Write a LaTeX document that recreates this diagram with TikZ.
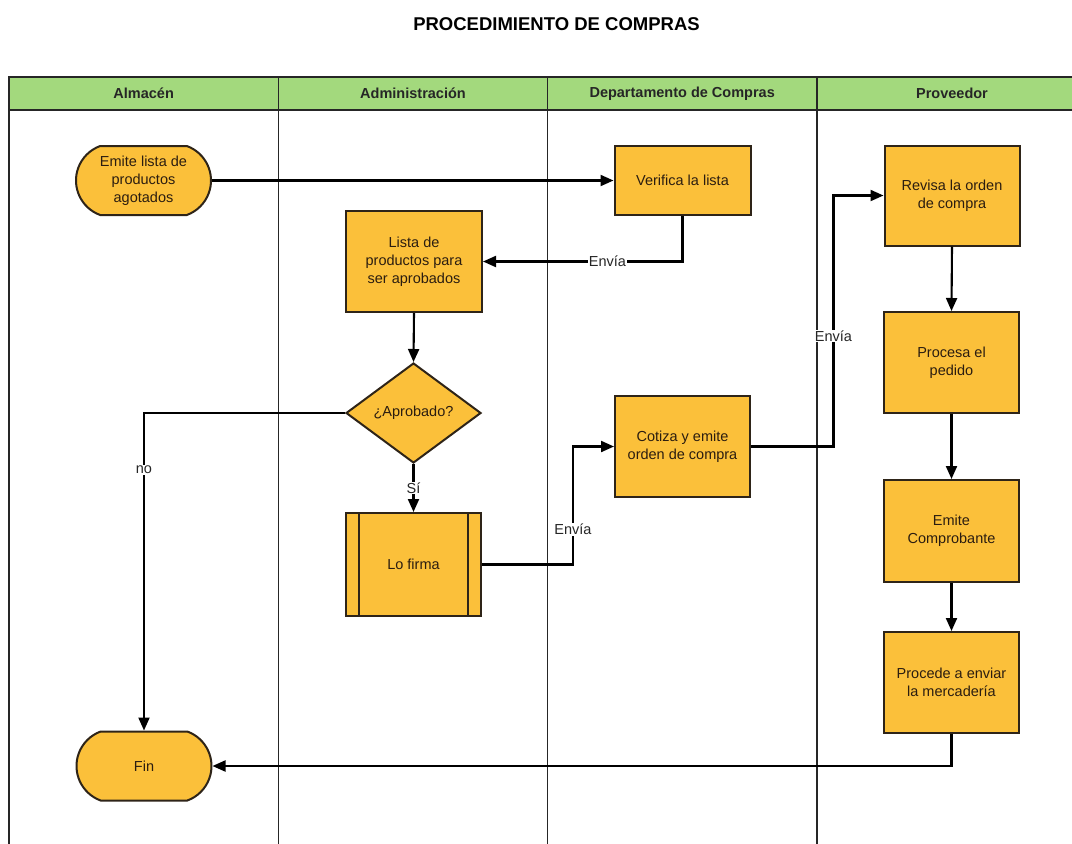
\documentclass[tikz,border=0pt]{standalone}
\usepackage{fontspec}
\setmainfont{Liberation Sans}
\usetikzlibrary{shapes.geometric,shapes.misc,arrows.meta,calc}
\definecolor{hdr}{HTML}{A3D97D}
\definecolor{boxc}{HTML}{FBC03A}
\definecolor{edgec}{HTML}{2E2418}
\definecolor{txtc}{HTML}{2B1D10}
\begin{document}
\begin{tikzpicture}[x=1pt,y=-1pt,
  every node/.style={font=\fontsize{14.5}{18}\selectfont, text=txtc, align=center},
  proc/.style={draw=edgec, line width=2pt, fill=boxc, minimum width=135pt, minimum height=101pt, inner sep=0pt},
  term/.style={rounded rectangle, rounded rectangle arc length=140, draw=edgec, line width=2pt, fill=boxc, minimum width=135pt, minimum height=69pt, inner sep=0pt},
  dec/.style={diamond, draw=edgec, line width=2pt, fill=boxc, minimum width=135pt, minimum height=100pt, inner sep=0pt, aspect=1.35},
  conn/.style={line width=2.1pt, draw=black, -{Triangle[length=13pt,width=11pt]}},
  lbl/.style={fill=white, inner sep=1pt, text=black!85},
  lane/.style={line width=1.5pt, draw=black!85},
  hd/.style={font=\fontsize{14.5}{18}\selectfont\bfseries, text=black!85}
]
\useasboundingbox (0,0) rectangle (1072,844);

% title
\node[font=\fontsize{18.5}{22}\selectfont\bfseries, text=black] (title) at (556.5,24.5) {PROCEDIMIENTO DE COMPRAS};

% pool and lanes
\fill[hdr] (9,77) rectangle (1072,110);
\draw[lane] (1072,77) -- (9,77) -- (9,844);
\draw[lane] (9,110) -- (1072,110);
\draw[lane] (278.5,77) -- (278.5,844);
\draw[lane] (547.5,77) -- (547.5,844);
\draw[lane] (817,77) -- (817,844);

\node[hd] (h1) at (143.7,93.5) {Almacén};
\node[hd] (h2) at (413,93.5) {Administración};
\node[hd] (h3) at (682.2,93.5) {Departamento de Compras};
\node[hd] (h4) at (952,93.5) {Proveedor};

% nodes
\node[term] (em) at (143.5,180.5) {Emite lista de\\productos\\agotados};
\node[term] (fin) at (144,766) {Fin};
\node[proc, minimum width=136pt, minimum height=69pt] (ver) at (682.5,180.5) {Verifica la lista};
\node[proc, minimum width=136pt] (lis) at (414,261.5) {Lista de\\productos para\\ser aprobados};
\node[dec] (dia) at (413.5,413) {¿Aprobado?};
\node[proc, minimum height=103pt] (lof) at (413.5,564.5) {Lo firma};
\draw[draw=edgec, line width=2pt] ([xshift=14pt]lof.north west) -- ([xshift=14pt]lof.south west)
  ([xshift=-14pt]lof.north east) -- ([xshift=-14pt]lof.south east);
\node[proc] (cot) at (682.5,446.5) {Cotiza y emite\\orden de compra};
\node[proc, minimum height=100pt] (rev) at (952,195.5) {Revisa la orden\\de compra};
\node[proc] (pcs) at (951.5,362.5) {Procesa el\\pedido};
\node[proc, minimum height=102pt] (ecb) at (951.5,531) {Emite\\Comprobante};
\node[proc] (pro) at (951.5,682.5) {Procede a enviar\\la mercadería};

% helper corners
\coordinate (k1) at (573,0);
\coordinate (k2) at (833.5,0);

% connectors
\draw[conn] (em.east) -- (em.east -| ver.west);
\draw[conn] (ver.south) |- node[lbl, pos=0.688] {Envía} (lis.east);
\draw[conn] (lis.south) -- (dia.north);
\draw[conn] (dia.west) -| node[lbl, pos=0.59] {no} (fin.north);
\draw[conn] (dia.south) -- node[lbl] {Sí} (lof.north);
\draw[conn] (lof.east) -- (lof.east -| k1) -- node[lbl, pos=0.3] {Envía} (k1 |- cot.west) -- (cot.west);
\draw[conn] (cot.east) -- (cot.east -| k2) -- node[lbl, pos=0.44] {Envía} (k2 |- rev.west) -- (rev.west);
\draw[conn] (rev.south) -- (pcs.north);
\draw[conn] (pcs.south) -- (ecb.north);
\draw[conn] (ecb.south) -- (pro.north);
\draw[conn] (pro.south) |- (fin.east);
\end{tikzpicture}
\end{document}
